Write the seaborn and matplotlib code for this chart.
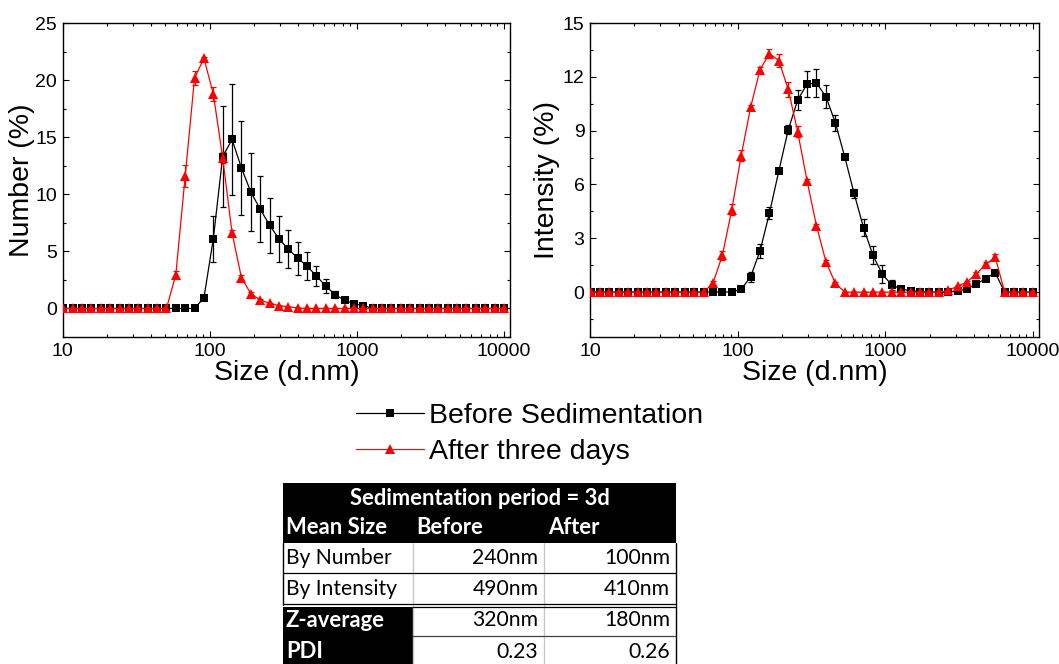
import numpy as np
import pandas as pd
import matplotlib
matplotlib.use("Agg")
import matplotlib.pyplot as plt
import matplotlib.ticker as mticker
from matplotlib.lines import Line2D
from matplotlib.patches import Rectangle
import seaborn as sns

# ---------------- data ----------------
sizes = [10.1, 11.7, 13.54, 15.69, 18.17, 21.04, 24.36, 28.21, 32.67, 37.84,
         43.82, 50.75, 58.77, 68.06, 78.82, 91.28, 105.7, 122.4, 141.8, 164.2,
         190.1, 220.2, 255.0, 295.3, 342.0, 396.1, 458.7, 531.2, 615.1, 712.4,
         825.0, 955.4, 1106, 1281, 1484, 1718, 1990, 2305, 2669, 3091,
         3580, 4145, 4801, 5560, 6439, 7456, 8635, 10000]

number_before = [0] * 15 + [0.93, 6.1, 13.3, 14.8, 12.3, 10.2, 8.7, 7.3, 6.1, 5.2,
                            4.4, 3.7, 2.85, 1.95, 1.2, 0.72, 0.4, 0.25] + [0] * 15
number_before_err = [0] * 15 + [0.1, 2.0, 4.4, 4.9, 4.1, 3.4, 2.9, 2.4, 2.0, 1.7,
                                1.45, 1.25, 0.9, 0.6, 0.3, 0.15, 0.12, 0.1] + [0] * 15
number_after = [0] * 12 + [2.95, 11.6, 20.2, 21.9, 18.8, 13.2, 6.6, 2.7, 1.3, 0.75,
                           0.45, 0.25, 0.15, 0.05] + [0] * 22
number_after_err = [0] * 12 + [0.35, 0.95, 0.6, 0.15, 0.6, 0.5, 0.3, 0.2, 0.15, 0.1,
                               0.05, 0, 0, 0] + [0] * 22

intensity_before = ([0] * 15 + [0.02, 0.15, 0.85, 2.3, 4.4, 6.75, 9.05, 10.7, 11.6, 11.65,
                                10.9, 9.45, 7.55, 5.5, 3.6, 2.05, 1.0, 0.4, 0.17, 0.08, 0.03]
                    + [0] * 3 + [0.05, 0.18, 0.45, 0.76, 1.08] + [0] * 4)
intensity_before_err = ([0] * 15 + [0, 0.05, 0.3, 0.4, 0.35, 0.1, 0.25, 0.55, 0.75, 0.8,
                                    0.65, 0.45, 0.15, 0.25, 0.45, 0.5, 0.5, 0.3, 0.1, 0, 0]
                        + [0] * 3 + [0, 0.03, 0.05, 0.05, 0.05] + [0] * 4)
intensity_after = ([0] * 13 + [0.5, 2.05, 4.6, 7.6, 10.3, 12.4, 13.3, 12.9, 11.3, 8.95,
                               6.2, 3.7, 1.7, 0.5]
                   + [0] * 11 + [0.1, 0.33, 0.57, 1.02, 1.55, 1.95] + [0] * 4)
intensity_after_err = ([0] * 13 + [0.1, 0.25, 0.3, 0.3, 0.15, 0.15, 0.25, 0.35, 0.4, 0.3,
                                   0.1, 0.1, 0.1, 0.05]
                       + [0] * 11 + [0, 0.05, 0.05, 0.1, 0.15, 0.15] + [0] * 4)

series_names = ["Before Sedimentation", "After three days"]
x_ticks = [10, 100, 1000, 10000]
x_tick_labels = ["10", "100", "1000", "10000"]
number_yticks = [0, 5, 10, 15, 20, 25]
intensity_yticks = [0, 3, 6, 9, 12, 15]

table_title = "Sedimentation period = 3d"
table_headers = ["Mean Size", "Before", "After"]
table_rows = ["By Number", "By Intensity", "Z-average", "PDI"]
table_before = ["240nm", "490nm", "320nm", "0.23"]
table_after = ["100nm", "410nm", "180nm", "0.26"]

# ---------------- style ----------------
sns.set_theme(style="ticks")
plt.rcParams["font.family"] = ["Liberation Sans", "DejaVu Sans"]
plt.rcParams["text.color"] = "black"
plt.rcParams["axes.labelcolor"] = "black"
plt.rcParams["xtick.color"] = "black"
plt.rcParams["ytick.color"] = "black"

W, H = 1059, 664
fig = plt.figure(figsize=(W / 100, H / 100), dpi=100)

colors = {"Before Sedimentation": "black", "After three days": "#ff0000"}
markers = {"Before Sedimentation": "s", "After three days": "^"}
msizes = {"Before Sedimentation": 6.0, "After three days": 7.5}

def make_df(before, before_err, after, after_err):
    return pd.DataFrame({
        "size": sizes * 2,
        "value": list(before) + list(after),
        "err": list(before_err) + list(after_err),
        "series": [series_names[0]] * len(sizes) + [series_names[1]] * len(sizes),
    })

def draw_panel(ax, df, ylim, yticks, ylabel, minor_step, lpad):
    for name in series_names:
        sub = df[df["series"] == name]
        ax.errorbar(sub["size"], sub["value"], yerr=sub["err"], fmt="none",
                    ecolor=colors[name], elinewidth=0.9, capsize=2.3,
                    capthick=0.9, zorder=2)
        sns.lineplot(data=sub, x="size", y="value", color=colors[name],
                     marker=markers[name], markersize=msizes[name],
                     markeredgewidth=0, linewidth=0.9, ax=ax, legend=False,
                     errorbar=None, zorder=3)
    ax.set_xscale("log")
    ax.set_xlim(10, 11000)
    ax.set_ylim(*ylim)
    ax.set_xticks(x_ticks)
    ax.set_xticklabels(x_tick_labels)
    ax.xaxis.set_minor_formatter(mticker.NullFormatter())
    ax.set_yticks(yticks)
    ax.yaxis.set_minor_locator(mticker.MultipleLocator(minor_step))
    ax.tick_params(which="both", direction="in", top=True, right=True,
                   labelsize=14, colors="black", width=0.8)
    ax.tick_params(which="major", length=4, pad=4)
    ax.tick_params(which="minor", length=2.5)
    for sp in ax.spines.values():
        sp.set_linewidth(1.0)
        sp.set_color("black")
    ax.set_xlabel("Size (d.nm)", fontsize=20.5, labelpad=0)
    ax.set_ylabel(ylabel, fontsize=20.5, labelpad=lpad)

ax1 = fig.add_axes([62.7 / W, 1 - 337 / H, 447.3 / W, 314 / H])
draw_panel(ax1, make_df(number_before, number_before_err, number_after, number_after_err),
           (-2.5, 25), number_yticks, "Number (%)", 2.5, 0.5)

ax2 = fig.add_axes([590 / W, 1 - 337 / H, 449 / W, 314 / H])
draw_panel(ax2, make_df(intensity_before, intensity_before_err, intensity_after, intensity_after_err),
           (-2.5, 15), intensity_yticks, "Intensity (%)", 1.5, 2)

# ---------------- legend ----------------
handles = [Line2D([], [], color=colors[n], marker=markers[n], markersize=msizes[n],
                  markeredgewidth=0, linewidth=0.9) for n in series_names]
fig.legend(handles, series_names, loc="center", bbox_to_anchor=(0.5, 1 - 434 / H),
           frameon=False, fontsize=20.5, handlelength=2.4, handletextpad=0.15,
           labelspacing=0.38, numpoints=1)

# ---------------- table ----------------
axt = fig.add_axes([0, 0, 1, 1], zorder=5)
axt.set_xlim(0, W)
axt.set_ylim(H, 0)
axt.axis("off")

col_x = [283.3, 412.7, 544.3, 676.0]
row_y = [482.7, 512.7, 542.7, 573.0, 605.0, 636.0, 668.0]
tfont = ["Lato", "DejaVu Sans"]
tsize = 15.2
bsize = 15.8

# header (black)
axt.add_patch(Rectangle((col_x[0], row_y[0]), col_x[3] - col_x[0], row_y[2] - row_y[0],
                        facecolor="black", edgecolor="none"))
# black first-column cells for Z-average & PDI
axt.add_patch(Rectangle((col_x[0], row_y[4] + 1.5), col_x[1] - col_x[0], row_y[6] - row_y[4],
                        facecolor="black", edgecolor="none"))
# grid lines
for xv in col_x[1:3]:
    axt.plot([xv, xv], [row_y[2], row_y[6]], color="#c8c8c8", lw=1.0)
axt.plot([col_x[0], col_x[0]], [row_y[2], row_y[4]], color="black", lw=1.0)
axt.plot([col_x[3], col_x[3]], [row_y[2], row_y[6]], color="black", lw=1.0)
axt.plot([col_x[0], col_x[3]], [row_y[3], row_y[3]], color="black", lw=0.9)
axt.plot([col_x[0], col_x[3]], [row_y[4] - 1.5, row_y[4] - 1.5], color="black", lw=0.9)
axt.plot([col_x[1], col_x[3]], [row_y[4] + 1.5, row_y[4] + 1.5], color="black", lw=0.9)
axt.plot([col_x[1], col_x[3]], [row_y[5], row_y[5]], color="#404040", lw=0.9)

axt.text((col_x[0] + col_x[3]) / 2, (row_y[0] + row_y[1]) / 2 + 1, table_title,
         color="white", fontweight="bold", ha="center", va="center",
         family=tfont, fontsize=bsize)
for j, hdr in enumerate(table_headers):
    axt.text(col_x[j] + (2.5 if j == 0 else 3.5), (row_y[1] + row_y[2]) / 2, hdr,
             color="white", fontweight="bold", ha="left", va="center",
             family=tfont, fontsize=bsize)
for i, lab in enumerate(table_rows):
    yc = (row_y[2 + i] + row_y[3 + i]) / 2
    dark = i >= 2
    axt.text(col_x[0] + 2.5, yc, lab, color="white" if dark else "black",
             fontweight="bold" if dark else "normal", ha="left", va="center",
             family=tfont, fontsize=bsize if dark else tsize)
    axt.text(col_x[2] - 6, yc, table_before[i], color="black", ha="right",
             va="center", family=tfont, fontsize=tsize)
    axt.text(col_x[3] - 6, yc, table_after[i], color="black", ha="right",
             va="center", family=tfont, fontsize=tsize)

fig.savefig("out.png", dpi=100)
